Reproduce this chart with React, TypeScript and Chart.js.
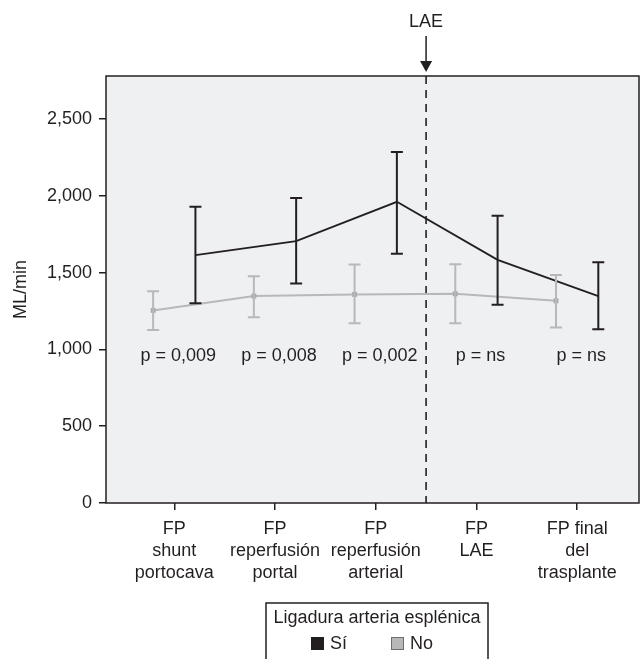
import React, { useEffect, useRef } from 'react';
import { Chart, registerables } from 'chart.js';

Chart.register(...registerables);

// ---- data ----
const categories: string[][] = [
  ['FP', 'shunt', 'portocava'],
  ['FP', 'reperfusión', 'portal'],
  ['FP', 'reperfusión', 'arterial'],
  ['FP', 'LAE'],
  ['FP final', 'del', 'trasplante'],
];
const siMean = [1614, 1705, 1961, 1583, 1347];
const siUpper = [1929, 1985, 2285, 1870, 1568];
const siLower = [1301, 1429, 1622, 1290, 1132];
const noMean = [1254, 1347, 1358, 1362, 1316];
const noUpper = [1379, 1477, 1553, 1555, 1484];
const noLower = [1127, 1210, 1171, 1171, 1143];
const pValues = ['p = 0,009', 'p = 0,008', 'p = 0,002', 'p = ns', 'p = ns'];
const pLabelLevel = 955;
const yTicks = [0, 500, 1000, 1500, 2000, 2500];
const yMax = 2780;
const laeMarker = 3.5;
const legendTitle = 'Ligadura arteria esplénica';
const seriesNames = ['Sí', 'No'];

const DARK = '#231f20';
const GREY = '#b8b8b8';
const GREY_MARK = '#ababab';
const BG = '#eff0f2';
const FONT = "'Liberation Sans', Arial, Helvetica, sans-serif";
const GROUP_OFFSET = 0.21;

const siPoints = siMean.map((v, i) => ({ x: i + 1 + GROUP_OFFSET, y: v }));
const noPoints = noMean.map((v, i) => ({ x: i + 1 - GROUP_OFFSET, y: v }));

const decorPlugin = {
  id: 'decor',
  beforeDatasetsDraw(chart: any) {
    const { ctx, chartArea: a, scales } = chart;
    ctx.save();
    ctx.fillStyle = BG;
    ctx.fillRect(a.left, a.top, a.right - a.left, a.bottom - a.top);
    // dashed LAE line
    const xl = scales.x.getPixelForValue(laeMarker);
    ctx.strokeStyle = DARK;
    ctx.lineWidth = 1.6;
    ctx.setLineDash([8, 6]);
    ctx.beginPath();
    ctx.moveTo(xl, a.top);
    ctx.lineTo(xl, a.bottom);
    ctx.stroke();
    ctx.setLineDash([]);
    // p labels
    ctx.fillStyle = DARK;
    ctx.font = `18px ${FONT}`;
    ctx.textAlign = 'center';
    ctx.textBaseline = 'middle';
    const py = scales.y.getPixelForValue(pLabelLevel);
    pValues.forEach((t, i) => {
      ctx.fillText(t, scales.x.getPixelForValue(i + 1) + 4, py);
    });
    ctx.restore();
  },
  afterDatasetsDraw(chart: any) {
    const { ctx, chartArea: a, scales } = chart;
    ctx.save();
    const drawBars = (means: number[], lo: number[], hi: number[], off: number, color: string) => {
      ctx.strokeStyle = color;
      ctx.lineWidth = 2;
      means.forEach((_, i) => {
        const x = scales.x.getPixelForValue(i + 1 + off);
        const yl = scales.y.getPixelForValue(lo[i]);
        const yh = scales.y.getPixelForValue(hi[i]);
        ctx.beginPath();
        ctx.moveTo(x, yl);
        ctx.lineTo(x, yh);
        ctx.moveTo(x - 6, yl);
        ctx.lineTo(x + 6, yl);
        ctx.moveTo(x - 6, yh);
        ctx.lineTo(x + 6, yh);
        ctx.stroke();
      });
    };
    drawBars(noMean, noLower, noUpper, -GROUP_OFFSET, GREY);
    drawBars(siMean, siLower, siUpper, GROUP_OFFSET, DARK);

    // frame
    ctx.strokeStyle = DARK;
    ctx.lineWidth = 1.5;
    ctx.strokeRect(a.left, a.top, a.right - a.left, a.bottom - a.top);

    // LAE arrow + label
    const xl = scales.x.getPixelForValue(laeMarker);
    ctx.lineWidth = 1.5;
    ctx.beginPath();
    ctx.moveTo(xl, a.top - 40);
    ctx.lineTo(xl, a.top - 13);
    ctx.stroke();
    ctx.fillStyle = DARK;
    ctx.beginPath();
    ctx.moveTo(xl - 6, a.top - 15);
    ctx.lineTo(xl + 6, a.top - 15);
    ctx.lineTo(xl, a.top - 4);
    ctx.closePath();
    ctx.fill();
    ctx.font = `18px ${FONT}`;
    ctx.textAlign = 'center';
    ctx.textBaseline = 'middle';
    ctx.fillText('LAE', xl, a.top - 54);

    // legend
    const lx = 266, ly = 603, lw = 222;
    ctx.lineWidth = 1.5;
    ctx.strokeStyle = DARK;
    ctx.beginPath();
    ctx.moveTo(lx, chart.height + 2);
    ctx.lineTo(lx, ly);
    ctx.lineTo(lx + lw, ly);
    ctx.lineTo(lx + lw, chart.height + 2);
    ctx.stroke();
    ctx.fillText(legendTitle, lx + lw / 2, 618);
    const ds = chart.data.datasets;
    const items = [
      { x: 311, color: ds[0].borderColor, border: ds[0].borderColor },
      { x: 391, color: GREY, border: '#6e6e6e' },
    ];
    ctx.textAlign = 'left';
    items.forEach((it, i) => {
      ctx.fillStyle = it.color;
      ctx.fillRect(it.x, 637, 13, 13);
      ctx.strokeStyle = it.border;
      ctx.lineWidth = 1;
      ctx.strokeRect(it.x + 0.5, 637.5, 12, 12);
      ctx.fillStyle = DARK;
      ctx.fillText(seriesNames[i], it.x + 19, 644);
    });
    ctx.restore();
  },
};

export default function App() {
  const ref = useRef<HTMLCanvasElement | null>(null);
  useEffect(() => {
    if (!ref.current) return;
    Chart.defaults.font.family = FONT;
    const chart = new Chart(ref.current, {
      type: 'line',
      data: {
        datasets: [
          {
            label: seriesNames[0],
            data: siPoints,
            borderColor: DARK,
            backgroundColor: DARK,
            borderWidth: 1.8,
            pointRadius: 0,
            tension: 0,
          },
          {
            label: seriesNames[1],
            data: noPoints,
            borderColor: GREY,
            backgroundColor: GREY_MARK,
            borderWidth: 2,
            pointStyle: 'rect',
            pointRadius: 3.5,
            pointBorderWidth: 0,
            pointBackgroundColor: GREY_MARK,
            tension: 0,
          },
        ],
      },
      options: {
        responsive: false,
        animation: false,
        devicePixelRatio: 1,
        layout: { padding: { top: 76, right: 2, left: 0, bottom: 0 } },
        plugins: { legend: { display: false }, tooltip: { enabled: false } },
        scales: {
          x: {
            type: 'linear',
            min: 0.322,
            max: 5.614,
            bounds: 'data',
            afterBuildTicks: (axis: any) => {
              axis.ticks = categories.map((_, i) => ({ value: i + 1 }));
            },
            afterFit: (axis: any) => {
              axis.height = 156;
            },
            grid: {
              display: true,
              drawOnChartArea: false,
              drawTicks: true,
              tickLength: 7,
              color: DARK,
              lineWidth: 1.5,
            },
            border: { display: false },
            ticks: {
              autoSkip: false,
              maxRotation: 0,
              minRotation: 0,
              padding: 8,
              color: DARK,
              font: { size: 18, lineHeight: 1.22 },
              callback: (v: any) => categories[Math.round(Number(v)) - 1] || '',
            },
          },
          y: {
            type: 'linear',
            min: 0,
            max: yMax,
            afterBuildTicks: (axis: any) => {
              axis.ticks = yTicks.map((v) => ({ value: v }));
            },
            afterFit: (axis: any) => {
              axis.width = 106;
            },
            grid: {
              display: true,
              drawOnChartArea: false,
              drawTicks: true,
              tickLength: 7,
              color: DARK,
              lineWidth: 1.5,
            },
            border: { display: false },
            title: {
              display: true,
              text: 'ML/min',
              color: DARK,
              font: { size: 18 },
              padding: { top: 10, bottom: 4 },
            },
            ticks: {
              padding: 7,
              color: DARK,
              font: { size: 18 },
              callback: (v: any) => Number(v).toLocaleString('en-US'),
            },
          },
        },
      },
      plugins: [decorPlugin],
    });
    return () => chart.destroy();
  }, []);
  return (
    <div style={{ position: 'absolute', left: 0, top: 0, width: 643, height: 659 }}>
      <canvas ref={ref} width={643} height={659} style={{ display: 'block' }} />
    </div>
  );
}
